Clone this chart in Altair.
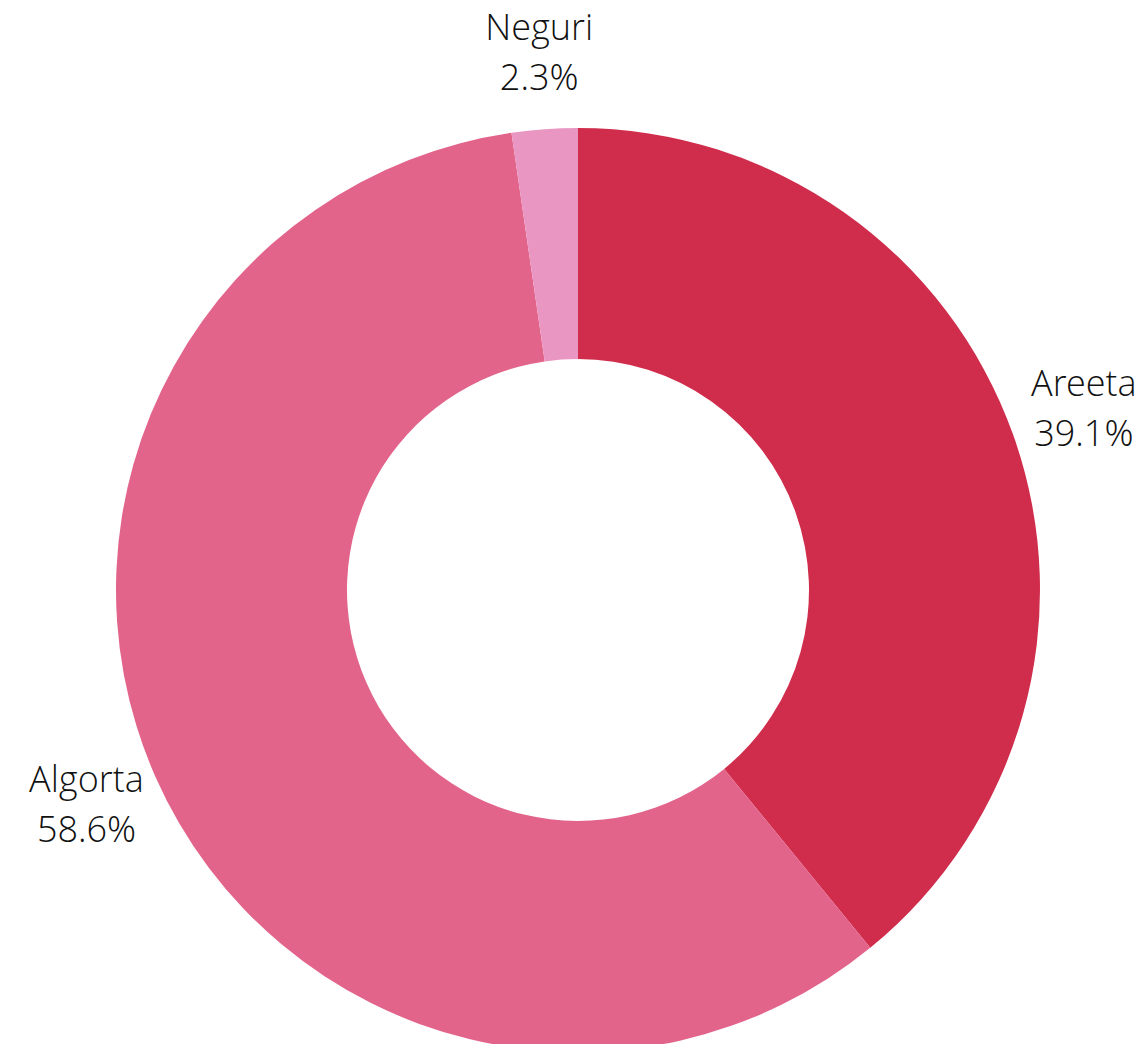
import altair as alt
import pandas as pd

categories = ["Areeta", "Algorta", "Neguri"]
values = [39.1, 58.6, 2.3]
labels = ["39.1%", "58.6%", "2.3%"]
colors = ["#D02D4D", "#E2648B", "#E996C2"]

df = pd.DataFrame({
    "cat": categories,
    "val": values,
    "pct": labels,
    "ord": list(range(len(categories))),
})
df["lab"] = df["cat"] + "\n" + df["pct"]

cx, cy = 570, 582

base = alt.Chart(df).encode(
    theta=alt.Theta("val:Q", stack=True),
    order=alt.Order("ord:Q"),
    x=alt.value(cx),
    y=alt.value(cy),
)

arcs = base.mark_arc(innerRadius=231, outerRadius=462).encode(
    color=alt.Color("cat:N", scale=alt.Scale(domain=categories, range=colors), legend=None)
)

text = base.mark_text(
    radius=537, lineBreak="\n", font='"Open Sans Light", "Open Sans"', fontWeight=300, fontSize=36,
    lineHeight=50, dy=-25, align="center", baseline="middle", color="#111111"
).encode(text="lab:N")

chart = (arcs + text).properties(
    width=1129, height=1036, padding=0, autosize=alt.AutoSizeParams(type="none")
).configure_view(stroke=None)

chart.save("out.html", embed_options={"renderer": "svg", "actions": False})
